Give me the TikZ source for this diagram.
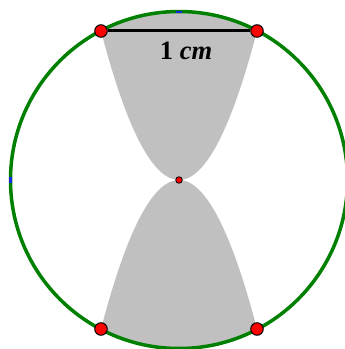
\documentclass[tikz,border=0pt]{standalone}
\usepackage{fontspec}
\setmainfont{Liberation Serif}
\definecolor{geogreen}{RGB}{0,128,0}
\definecolor{regiongray}{RGB}{192,192,192}
\definecolor{markblue}{RGB}{20,40,230}
\tikzset{
  redpt/.style={circle,fill=red,draw=black,line width=1pt,inner sep=0pt,minimum size=12.5pt},
  smallpt/.style={circle,fill=red,draw=black,line width=0.8pt,inner sep=0pt,minimum size=6.5pt},
  circleline/.style={draw=geogreen,line width=3.5pt},
  chord/.style={draw=black,line width=3pt},
  region/.style={fill=regiongray},
  bluemark/.style={fill=markblue},
  lbl/.style={font=\fontsize{26.5}{30}\selectfont\bfseries,inner sep=0pt}
}
\begin{document}
\begin{tikzpicture}[x=1pt,y=1pt]
\useasboundingbox (0,0) rectangle (345,349);
\coordinate (C) at (179,169);
\begin{scope}
  \clip (C) circle (168.5);
  \fill[region] plot[domain=-100:100,samples=101] ({179+\x},{169+0.02449*\x*\x}) -- cycle;
  \fill[region] plot[domain=-100:100,samples=101] ({179+\x},{169-0.02449*\x*\x}) -- cycle;
\end{scope}
\draw[circleline] (C) circle (168.5);
\fill[bluemark] (176,335.8) rectangle (182,338.2);
\fill[bluemark] (9.3,166) rectangle (11.7,172);
\node[redpt] (A) at (101,318) {};
\node[redpt] (B) at (257,318) {};
\node[redpt] (D) at (101,20) {};
\node[redpt] (E) at (257,20) {};
\draw[chord] (A) -- (B);
\node[smallpt] (M) at (C) {};
\node[lbl] (L) at (186,298) {1 \textit{cm}};
\end{tikzpicture}
\end{document}
